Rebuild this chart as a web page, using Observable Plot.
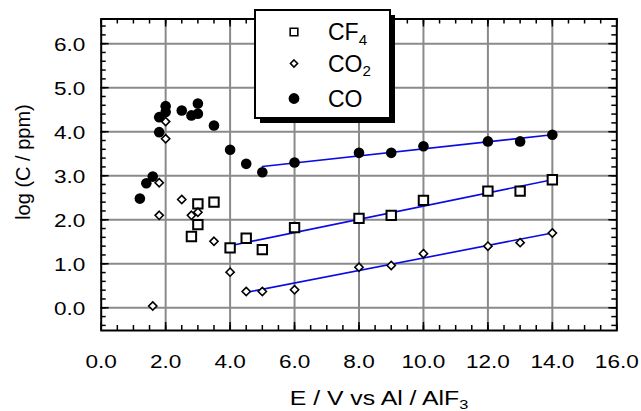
<!DOCTYPE html>
<html>
<head>
<meta charset="utf-8">
<script src="https://cdn.jsdelivr.net/npm/d3@7"></script>
<script src="https://cdn.jsdelivr.net/npm/@observablehq/plot@0.6"></script>
<style>
  html, body { margin: 0; padding: 0; background: #fff; }
</style>
</head>
<body>
<div id="chart"></div>
<script>
// Gas concentrations (log ppm) against cell potential
const series = ["CF₄", "CO₂", "CO"];

const cf4X = [2.8, 3.0, 3.0, 3.5, 4.0, 4.5, 5.0, 6.0, 8.0, 9.0, 10.0, 12.0, 13.0, 14.0];
const cf4Y = [1.62, 2.36, 1.89, 2.40, 1.36, 1.58, 1.32, 1.82, 2.03, 2.10, 2.44, 2.65, 2.65, 2.91];

const co2X = [1.6, 1.8, 1.8, 2.0, 2.0, 2.5, 2.8, 3.0, 3.5, 4.0, 4.5, 5.0, 6.0, 8.0, 9.0, 10.0, 12.0, 13.0, 14.0];
const co2Y = [0.04, 2.84, 2.10, 4.23, 3.84, 2.46, 2.10, 2.17, 1.51, 0.81, 0.37, 0.37, 0.41, 0.92, 0.96, 1.23, 1.40, 1.48, 1.70];

const coX = [1.2, 1.4, 1.6, 1.8, 1.8, 2.0, 2.0, 2.5, 2.8, 3.0, 3.0, 3.5, 4.0, 4.5, 5.0, 6.0, 8.0, 9.0, 10.0, 12.0, 13.0, 14.0];
const coY = [2.48, 2.83, 2.98, 3.99, 4.33, 4.45, 4.58, 4.48, 4.37, 4.41, 4.64, 4.14, 3.59, 3.27, 3.08, 3.30, 3.52, 3.52, 3.67, 3.78, 3.78, 3.93];

// Linear fits over the high-potential region: [start, end] x and y
const fitCF4X = [4.0, 14.0];
const fitCF4Y = [1.41, 2.91];
const fitCO2X = [4.5, 14.0];
const fitCO2Y = [0.35, 1.70];
const fitCOX = [5.0, 14.0];
const fitCOY = [3.21, 3.93];

const xTicks = [0, 2, 4, 6, 8, 10, 12, 14, 16];
const yTicks = [0, 1, 2, 3, 4, 5, 6];
const xMinor = d3.range(0, 16.001, 0.5);
const yMinor = d3.range(-0.4, 6.5, 0.2).map(v => +v.toFixed(1));

const xLabel = "E / V vs Al / AlF₃";
const yLabel = "log (C / ppm)";

// Layout
const W = 641, H = 411;
const mL = 100.7, mR = 24.7, mT = 18.5, mB = 81;
const innerW = W - mL - mR, innerH = H - mT - mB;
const font = "'Liberation Sans', Arial, Helvetica, sans-serif";
const fmt = d3.format(".1f");

const rows = (xs, ys, s) => xs.map((x, i) => ({x, y: ys[i], series: s}));
const cf4 = rows(cf4X, cf4Y, series[0]);
const co2 = rows(co2X, co2Y, series[1]);
const co = rows(coX, coY, series[2]);
const fits = [
  ...rows(fitCF4X, fitCF4Y, series[0]),
  ...rows(fitCO2X, fitCO2Y, series[1]),
  ...rows(fitCOX, fitCOY, series[2])
];

function legend() {
  const g = d3.create("svg:g").attr("aria-label", "legend");
  const bx = 255, by = 10, bw = 135, bh = 108, sh = 5;
  g.append("rect").attr("x", bx + sh).attr("y", by + sh).attr("width", bw).attr("height", bh).attr("fill", "black");
  g.append("rect").attr("x", bx).attr("y", by).attr("width", bw).attr("height", bh)
    .attr("fill", "white").attr("stroke", "black").attr("stroke-width", 2);
  const rowY = [32, 63.5, 98.5];
  const shapes = [
    {type: d3.symbolSquare, size: 58, fill: "white", sw: 1.6},
    {type: d3.symbolDiamond2, size: 32, fill: "white", sw: 1.6},
    {type: d3.symbolCircle, size: 92, fill: "black", sw: 0}
  ];
  series.forEach((name, i) => {
    const s = shapes[i];
    g.append("path")
      .attr("transform", `translate(294,${rowY[i]})`)
      .attr("d", d3.symbol().type(s.type).size(s.size)())
      .attr("fill", s.fill)
      .attr("stroke", s.sw ? "black" : "none")
      .attr("stroke-width", s.sw);
    g.append("text")
      .attr("x", 328).attr("y", rowY[i] + 8.2)
      .attr("text-anchor", "start")
      .attr("font-size", 23)
      .attr("font-family", font)
      .attr("fill", "black")
      .text(name);
  });
  return g.node();
}

// Wider set type: stretch each label horizontally about its own anchor
const widen = k => (index, scales, values, dims, context, next) => {
  const g = next(index, scales, values, dims, context);
  d3.select(g).selectAll("text").each(function () {
    const t = this.getAttribute("transform") || "";
    this.setAttribute("transform", `${t} scale(${k},1)`);
  });
  return g;
};

const grid = {stroke: "#8a8a8a", strokeWidth: 2};
const tick = {stroke: "black", strokeWidth: 1.5};

const svg = Plot.plot({
  width: W,
  height: H,
  marginLeft: mL,
  marginRight: mR,
  marginTop: mT,
  marginBottom: mB,
  style: {fontFamily: font, background: "white", color: "black", overflow: "visible"},
  x: {domain: [0, 16], axis: null},
  y: {domain: [-0.516, 6.56], axis: null},
  marks: [
    Plot.ruleX(xTicks.slice(1, -1), grid),
    Plot.ruleY(yTicks, grid),
    // inward minor and major ticks on all four sides
    Plot.tickX(xMinor, {x: d => d, ...tick, insetTop: innerH - 5}),
    Plot.tickX(xMinor, {x: d => d, ...tick, insetBottom: innerH - 5}),
    Plot.tickX(xTicks, {x: d => d, ...tick, insetTop: innerH - 8}),
    Plot.tickX(xTicks, {x: d => d, ...tick, insetBottom: innerH - 8}),
    Plot.tickY(yMinor, {y: d => d, ...tick, insetRight: innerW - 5}),
    Plot.tickY(yMinor, {y: d => d, ...tick, insetLeft: innerW - 5}),
    Plot.tickY(yTicks, {y: d => d, ...tick, insetRight: innerW - 8}),
    Plot.tickY(yTicks, {y: d => d, ...tick, insetLeft: innerW - 8}),
    Plot.line(fits, {x: "x", y: "y", z: "series", stroke: "#0a0ae6", strokeWidth: 1.6}),
    Plot.dot(cf4, {x: "x", y: "y", symbol: "square", r: 5.3, fill: "white", stroke: "black", strokeWidth: 2}),
    Plot.dot(co2, {x: "x", y: "y", symbol: "diamond2", r: 3.7, fill: "white", stroke: "black", strokeWidth: 1.6}),
    Plot.dot(co, {x: "x", y: "y", r: 5.3, fill: "black", stroke: "none"}),
    Plot.frame({stroke: "black", strokeWidth: 2}),
    Plot.text(xTicks, {x: d => d, text: d => fmt(d), frameAnchor: "bottom", dy: 31.7,
      textAnchor: "middle", lineAnchor: "middle",
      fontSize: 18.5, fill: "black", render: widen(1.22)}),
    Plot.text(yTicks, {y: d => d, text: d => fmt(d), frameAnchor: "left", dx: -15.8, dy: 1.5,
      textAnchor: "end", lineAnchor: "middle",
      fontSize: 18.5, fill: "black", render: widen(1.22)}),
    Plot.text([xLabel], {text: d => d, frameAnchor: "bottom", dx: 20, dy: 67.5,
      textAnchor: "middle", lineAnchor: "middle",
      fontSize: 20.5, fill: "black", render: widen(1.21)}),
    Plot.text([yLabel], {text: d => d, frameAnchor: "left", rotate: -90, dx: -77.4, dy: -12.7,
      textAnchor: "middle", lineAnchor: "middle",
      fontSize: 20, fill: "black"}),
    legend
  ]
});

// Render trailing subscript digits as lowered, smaller tspans
d3.select(svg).selectAll("text").each(function () {
  const s = this.textContent;
  const m = s.match(/^(.*?)([\u2080-\u2089]+)$/);
  if (!m) return;
  const digits = [...m[2]].map(c => String.fromCharCode(c.charCodeAt(0) - 0x2080 + 48)).join("");
  this.textContent = "";
  const sel = d3.select(this);
  sel.append("tspan").text(m[1]);
  sel.append("tspan").attr("font-size", "66%").attr("dy", "0.3em").text(digits);
});

document.getElementById("chart").appendChild(svg);
</script>
</body>
</html>
